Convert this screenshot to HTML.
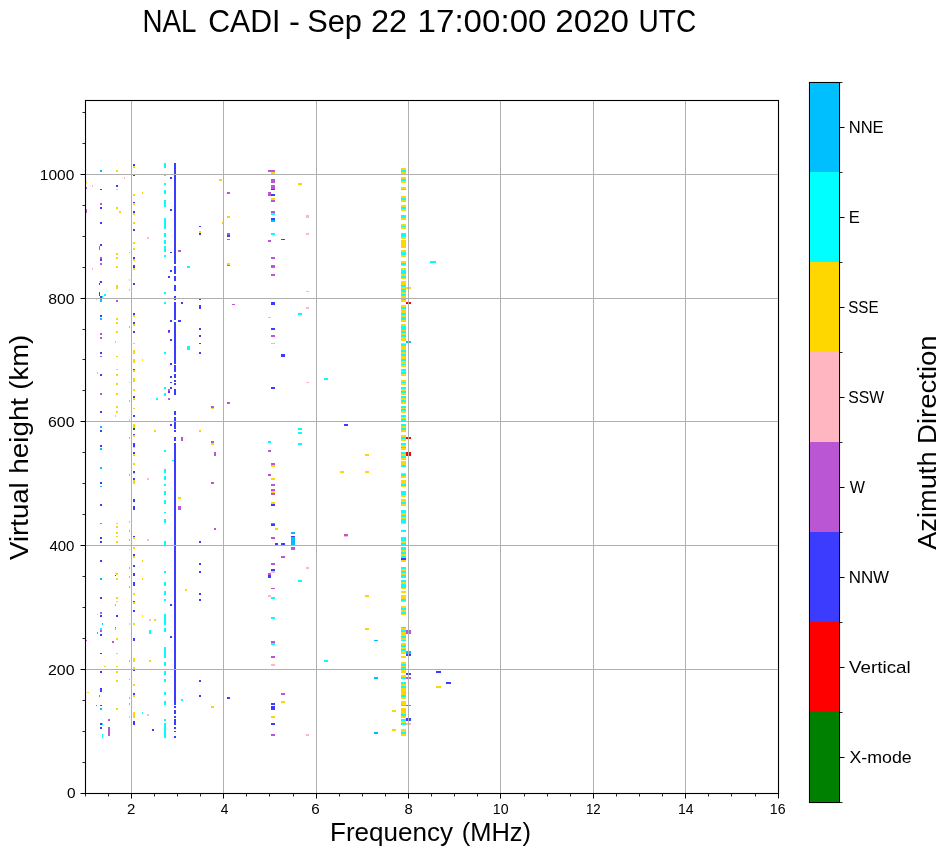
<!DOCTYPE html>
<html><head><meta charset="utf-8"><style>
html,body{margin:0;padding:0;background:#fff;width:951px;height:856px;overflow:hidden}
svg{display:block;will-change:transform}
text{font-family:"Liberation Sans",sans-serif;fill:#000}
</style></head><body>
<svg width="951" height="856" viewBox="0 0 951 856">
<g shape-rendering="crispEdges">
<rect x="84" y="100" width="1" height="694" fill="#f1f1f1"/>
<rect x="86" y="101" width="1" height="692" fill="#f1f1f1"/>
<rect x="777" y="101" width="1" height="692" fill="#f1f1f1"/>
<rect x="779" y="100" width="1" height="694" fill="#f1f1f1"/>
<rect x="85" y="99" width="694" height="1" fill="#f1f1f1"/>
<rect x="85" y="101" width="694" height="1" fill="#f1f1f1"/>
<rect x="85" y="792" width="694" height="1" fill="#f1f1f1"/>
<rect x="85" y="794" width="694" height="1" fill="#f1f1f1"/>
<rect x="133" y="164" width="2" height="2" fill="#3c3cff"/>
<rect x="133" y="166" width="2" height="2" fill="#ffd700"/>
<rect x="164" y="163" width="2" height="5" fill="#00ffff"/>
<rect x="174" y="163" width="2" height="94" fill="#3c3cff"/>
<rect x="100" y="170" width="2" height="2" fill="#00bfff"/>
<rect x="116" y="170" width="2" height="2" fill="#ffd700"/>
<rect x="133" y="174" width="2" height="2" fill="#3c3cff"/>
<rect x="164" y="174" width="2" height="2" fill="#00ffff"/>
<rect x="170" y="177" width="2" height="2" fill="#3c3cff"/>
<rect x="124" y="177" width="1" height="2" fill="#ffb6c1"/>
<rect x="86" y="181" width="1" height="2" fill="#ffd700"/>
<rect x="92" y="185" width="1" height="2" fill="#ffb6c1"/>
<rect x="86" y="187" width="1" height="2" fill="#ba55d3"/>
<rect x="116" y="185" width="2" height="2" fill="#3c3cff"/>
<rect x="100" y="189" width="2" height="1" fill="#3c3cff"/>
<rect x="116" y="189" width="2" height="1" fill="#ffd700"/>
<rect x="164" y="183" width="2" height="2" fill="#00ffff"/>
<rect x="164" y="190" width="2" height="4" fill="#00ffff"/>
<rect x="142" y="192" width="1" height="2" fill="#ffd700"/>
<rect x="133" y="194" width="2" height="2" fill="#ffd700"/>
<rect x="100" y="203" width="2" height="2" fill="#ba55d3"/>
<rect x="133" y="202" width="2" height="1" fill="#3c3cff"/>
<rect x="133" y="203" width="2" height="2" fill="#ffd700"/>
<rect x="164" y="200" width="2" height="7" fill="#00ffff"/>
<rect x="100" y="207" width="2" height="2" fill="#3c3cff"/>
<rect x="116" y="207" width="2" height="2" fill="#ffd700"/>
<rect x="86" y="209" width="1" height="4" fill="#ba55d3"/>
<rect x="119" y="211" width="2" height="2" fill="#ffd700"/>
<rect x="133" y="211" width="2" height="2" fill="#3c3cff"/>
<rect x="133" y="213" width="2" height="2" fill="#ffd700"/>
<rect x="170" y="209" width="2" height="2" fill="#3c3cff"/>
<rect x="100" y="222" width="2" height="2" fill="#3c3cff"/>
<rect x="133" y="222" width="2" height="2" fill="#ffd700"/>
<rect x="164" y="218" width="2" height="11" fill="#00ffff"/>
<rect x="133" y="229" width="2" height="2" fill="#3c3cff"/>
<rect x="199" y="226" width="2" height="1" fill="#3c3cff"/>
<rect x="199" y="231" width="2" height="2" fill="#ffd700"/>
<rect x="199" y="233" width="2" height="2" fill="#3c3cff"/>
<rect x="147" y="237" width="2" height="2" fill="#ffb6c1"/>
<rect x="164" y="233" width="2" height="4" fill="#00ffff"/>
<rect x="133" y="242" width="2" height="2" fill="#ffd700"/>
<rect x="100" y="244" width="2" height="2" fill="#3c3cff"/>
<rect x="99" y="246" width="1" height="4" fill="#ba55d3"/>
<rect x="164" y="240" width="2" height="4" fill="#00ffff"/>
<rect x="133" y="248" width="2" height="2" fill="#ffd700"/>
<rect x="164" y="246" width="2" height="6" fill="#00ffff"/>
<rect x="178" y="250" width="3" height="2" fill="#ba55d3"/>
<rect x="170" y="252" width="2" height="1" fill="#3c3cff"/>
<rect x="116" y="253" width="2" height="2" fill="#ffd700"/>
<rect x="129" y="252" width="1" height="1" fill="#00ffff"/>
<rect x="164" y="255" width="2" height="2" fill="#00ffff"/>
<rect x="100" y="257" width="2" height="2" fill="#ba55d3"/>
<rect x="100" y="259" width="2" height="2" fill="#3c3cff"/>
<rect x="116" y="257" width="2" height="2" fill="#ffd700"/>
<rect x="133" y="257" width="2" height="2" fill="#3c3cff"/>
<rect x="133" y="259" width="2" height="2" fill="#ffd700"/>
<rect x="174" y="257" width="2" height="7" fill="#3c3cff"/>
<rect x="174" y="266" width="2" height="8" fill="#3c3cff"/>
<rect x="174" y="276" width="2" height="5" fill="#3c3cff"/>
<rect x="174" y="285" width="2" height="6" fill="#3c3cff"/>
<rect x="174" y="296" width="2" height="4" fill="#3c3cff"/>
<rect x="174" y="302" width="2" height="18" fill="#3c3cff"/>
<rect x="174" y="322" width="2" height="42" fill="#3c3cff"/>
<rect x="100" y="263" width="2" height="2" fill="#ba55d3"/>
<rect x="92" y="268" width="1" height="2" fill="#ffb6c1"/>
<rect x="116" y="266" width="2" height="2" fill="#ffd700"/>
<rect x="133" y="265" width="2" height="3" fill="#3c3cff"/>
<rect x="133" y="268" width="2" height="2" fill="#ffd700"/>
<rect x="187" y="266" width="3" height="2" fill="#00ffff"/>
<rect x="170" y="270" width="2" height="2" fill="#3c3cff"/>
<rect x="168" y="276" width="2" height="2" fill="#3c3cff"/>
<rect x="129" y="279" width="1" height="2" fill="#ffd700"/>
<rect x="100" y="281" width="2" height="2" fill="#3c3cff"/>
<rect x="99" y="281" width="1" height="1" fill="#ffb6c1"/>
<rect x="99" y="283" width="1" height="2" fill="#3c3cff"/>
<rect x="133" y="283" width="2" height="2" fill="#3c3cff"/>
<rect x="116" y="285" width="2" height="4" fill="#ffd700"/>
<rect x="129" y="289" width="1" height="2" fill="#ffd700"/>
<rect x="99" y="292" width="1" height="4" fill="#3c3cff"/>
<rect x="100" y="296" width="2" height="2" fill="#3c3cff"/>
<rect x="102" y="296" width="1" height="2" fill="#00ffff"/>
<rect x="104" y="294" width="2" height="2" fill="#00ffff"/>
<rect x="164" y="292" width="2" height="2" fill="#00ffff"/>
<rect x="96" y="299" width="1" height="1" fill="#ffd700"/>
<rect x="100" y="299" width="2" height="3" fill="#00bfff"/>
<rect x="116" y="300" width="2" height="2" fill="#ba55d3"/>
<rect x="164" y="302" width="2" height="2" fill="#00ffff"/>
<rect x="181" y="302" width="2" height="2" fill="#3c3cff"/>
<rect x="199" y="299" width="2" height="1" fill="#3c3cff"/>
<rect x="199" y="305" width="2" height="4" fill="#3c3cff"/>
<rect x="100" y="315" width="2" height="2" fill="#3c3cff"/>
<rect x="100" y="318" width="2" height="2" fill="#00bfff"/>
<rect x="133" y="313" width="2" height="2" fill="#3c3cff"/>
<rect x="133" y="315" width="2" height="2" fill="#ffd700"/>
<rect x="116" y="318" width="2" height="2" fill="#ffd700"/>
<rect x="170" y="320" width="2" height="2" fill="#3c3cff"/>
<rect x="178" y="320" width="3" height="2" fill="#3c3cff"/>
<rect x="116" y="322" width="2" height="2" fill="#ffd700"/>
<rect x="133" y="322" width="2" height="2" fill="#3c3cff"/>
<rect x="133" y="324" width="2" height="2" fill="#ffd700"/>
<rect x="129" y="326" width="1" height="2" fill="#00ffff"/>
<rect x="199" y="328" width="2" height="2" fill="#3c3cff"/>
<rect x="116" y="331" width="2" height="2" fill="#ffd700"/>
<rect x="133" y="331" width="2" height="2" fill="#3c3cff"/>
<rect x="168" y="330" width="2" height="2" fill="#3c3cff"/>
<rect x="168" y="332" width="2" height="1" fill="#ba55d3"/>
<rect x="100" y="333" width="2" height="2" fill="#ba55d3"/>
<rect x="100" y="337" width="2" height="2" fill="#ba55d3"/>
<rect x="199" y="335" width="2" height="2" fill="#3c3cff"/>
<rect x="170" y="339" width="2" height="2" fill="#3c3cff"/>
<rect x="115" y="341" width="1" height="2" fill="#ffd700"/>
<rect x="133" y="343" width="2" height="1" fill="#ffd700"/>
<rect x="199" y="343" width="2" height="1" fill="#3c3cff"/>
<rect x="187" y="346" width="3" height="4" fill="#00ffff"/>
<rect x="100" y="352" width="2" height="2" fill="#3c3cff"/>
<rect x="100" y="356" width="2" height="1" fill="#ba55d3"/>
<rect x="116" y="356" width="2" height="1" fill="#ffd700"/>
<rect x="133" y="350" width="2" height="4" fill="#ffd700"/>
<rect x="164" y="352" width="2" height="2" fill="#00ffff"/>
<rect x="199" y="352" width="2" height="2" fill="#3c3cff"/>
<rect x="133" y="359" width="2" height="4" fill="#ffd700"/>
<rect x="142" y="359" width="1" height="2" fill="#ffd700"/>
<rect x="170" y="363" width="2" height="1" fill="#3c3cff"/>
<rect x="170" y="364" width="2" height="1" fill="#3c3cff"/>
<rect x="174" y="365" width="2" height="7" fill="#3c3cff"/>
<rect x="174" y="374" width="2" height="4" fill="#3c3cff"/>
<rect x="174" y="380" width="2" height="2" fill="#3c3cff"/>
<rect x="174" y="383" width="2" height="2" fill="#3c3cff"/>
<rect x="174" y="389" width="2" height="6" fill="#3c3cff"/>
<rect x="174" y="411" width="2" height="4" fill="#3c3cff"/>
<rect x="174" y="417" width="2" height="12" fill="#3c3cff"/>
<rect x="174" y="430" width="2" height="2" fill="#3c3cff"/>
<rect x="174" y="437" width="2" height="4" fill="#3c3cff"/>
<rect x="174" y="443" width="2" height="28" fill="#3c3cff"/>
<rect x="116" y="369" width="2" height="1" fill="#ffd700"/>
<rect x="133" y="369" width="2" height="1" fill="#3c3cff"/>
<rect x="133" y="370" width="2" height="2" fill="#ffd700"/>
<rect x="97" y="372" width="1" height="2" fill="#ffd700"/>
<rect x="100" y="374" width="2" height="2" fill="#3c3cff"/>
<rect x="116" y="374" width="2" height="2" fill="#ffd700"/>
<rect x="133" y="378" width="2" height="4" fill="#ffd700"/>
<rect x="129" y="382" width="1" height="1" fill="#ffd700"/>
<rect x="170" y="376" width="2" height="2" fill="#3c3cff"/>
<rect x="170" y="382" width="2" height="1" fill="#3c3cff"/>
<rect x="116" y="383" width="2" height="2" fill="#ffd700"/>
<rect x="164" y="387" width="2" height="2" fill="#00ffff"/>
<rect x="170" y="387" width="2" height="2" fill="#3c3cff"/>
<rect x="168" y="389" width="2" height="2" fill="#ba55d3"/>
<rect x="168" y="391" width="2" height="2" fill="#3c3cff"/>
<rect x="164" y="393" width="2" height="3" fill="#00ffff"/>
<rect x="133" y="389" width="2" height="2" fill="#ffd700"/>
<rect x="100" y="393" width="2" height="2" fill="#ba55d3"/>
<rect x="116" y="393" width="2" height="2" fill="#ffd700"/>
<rect x="133" y="396" width="2" height="2" fill="#3c3cff"/>
<rect x="133" y="398" width="2" height="2" fill="#ffd700"/>
<rect x="129" y="400" width="1" height="2" fill="#00ffff"/>
<rect x="156" y="398" width="2" height="2" fill="#00ffff"/>
<rect x="168" y="398" width="2" height="2" fill="#ba55d3"/>
<rect x="116" y="406" width="2" height="2" fill="#ffd700"/>
<rect x="133" y="408" width="2" height="1" fill="#ffd700"/>
<rect x="100" y="411" width="2" height="2" fill="#3c3cff"/>
<rect x="116" y="411" width="2" height="2" fill="#ffd700"/>
<rect x="115" y="415" width="1" height="2" fill="#ffd700"/>
<rect x="133" y="415" width="2" height="2" fill="#3c3cff"/>
<rect x="129" y="419" width="1" height="2" fill="#ffd700"/>
<rect x="100" y="426" width="2" height="2" fill="#00bfff"/>
<rect x="133" y="424" width="2" height="4" fill="#ffd700"/>
<rect x="133" y="428" width="2" height="2" fill="#008000"/>
<rect x="170" y="424" width="2" height="2" fill="#3c3cff"/>
<rect x="100" y="430" width="2" height="2" fill="#3c3cff"/>
<rect x="154" y="430" width="2" height="2" fill="#ffd700"/>
<rect x="199" y="430" width="2" height="2" fill="#ffd700"/>
<rect x="133" y="434" width="2" height="1" fill="#3c3cff"/>
<rect x="133" y="435" width="2" height="2" fill="#ffd700"/>
<rect x="129" y="437" width="1" height="2" fill="#00ffff"/>
<rect x="181" y="437" width="2" height="4" fill="#ba55d3"/>
<rect x="133" y="443" width="2" height="4" fill="#3c3cff"/>
<rect x="133" y="447" width="2" height="1" fill="#ffd700"/>
<rect x="100" y="445" width="2" height="2" fill="#3c3cff"/>
<rect x="100" y="448" width="2" height="2" fill="#00bfff"/>
<rect x="164" y="450" width="2" height="2" fill="#00ffff"/>
<rect x="133" y="452" width="2" height="2" fill="#3c3cff"/>
<rect x="133" y="454" width="2" height="2" fill="#ffd700"/>
<rect x="172" y="460" width="2" height="1" fill="#00ffff"/>
<rect x="133" y="463" width="2" height="2" fill="#ffd700"/>
<rect x="100" y="467" width="2" height="2" fill="#00bfff"/>
<rect x="164" y="469" width="2" height="2" fill="#00ffff"/>
<rect x="174" y="471" width="2" height="107" fill="#3c3cff"/>
<rect x="133" y="471" width="2" height="2" fill="#3c3cff"/>
<rect x="133" y="473" width="2" height="1" fill="#ffd700"/>
<rect x="129" y="474" width="1" height="2" fill="#00ffff"/>
<rect x="164" y="471" width="2" height="2" fill="#00ffff"/>
<rect x="147" y="478" width="2" height="2" fill="#ffb6c1"/>
<rect x="133" y="478" width="2" height="2" fill="#3c3cff"/>
<rect x="133" y="480" width="2" height="4" fill="#ffd700"/>
<rect x="164" y="476" width="2" height="4" fill="#00ffff"/>
<rect x="100" y="482" width="2" height="2" fill="#3c3cff"/>
<rect x="100" y="486" width="2" height="1" fill="#00bfff"/>
<rect x="164" y="484" width="2" height="2" fill="#00ffff"/>
<rect x="164" y="491" width="2" height="4" fill="#00ffff"/>
<rect x="178" y="497" width="3" height="2" fill="#ffd700"/>
<rect x="133" y="499" width="2" height="3" fill="#3c3cff"/>
<rect x="164" y="500" width="2" height="4" fill="#00ffff"/>
<rect x="100" y="504" width="2" height="2" fill="#3c3cff"/>
<rect x="133" y="506" width="2" height="4" fill="#3c3cff"/>
<rect x="178" y="506" width="3" height="4" fill="#ba55d3"/>
<rect x="164" y="512" width="2" height="1" fill="#00ffff"/>
<rect x="164" y="519" width="2" height="4" fill="#00ffff"/>
<rect x="129" y="521" width="1" height="2" fill="#ffd700"/>
<rect x="100" y="523" width="2" height="1" fill="#00bfff"/>
<rect x="116" y="523" width="2" height="1" fill="#ffd700"/>
<rect x="116" y="526" width="2" height="2" fill="#ffd700"/>
<rect x="129" y="530" width="1" height="2" fill="#00ffff"/>
<rect x="116" y="532" width="2" height="2" fill="#ffd700"/>
<rect x="116" y="536" width="2" height="1" fill="#ffd700"/>
<rect x="133" y="536" width="2" height="1" fill="#3c3cff"/>
<rect x="133" y="537" width="2" height="2" fill="#ffd700"/>
<rect x="100" y="537" width="2" height="2" fill="#3c3cff"/>
<rect x="147" y="539" width="2" height="2" fill="#ffb6c1"/>
<rect x="129" y="539" width="1" height="2" fill="#00ffff"/>
<rect x="100" y="541" width="2" height="2" fill="#3c3cff"/>
<rect x="116" y="541" width="2" height="2" fill="#ffd700"/>
<rect x="164" y="541" width="2" height="4" fill="#00ffff"/>
<rect x="199" y="541" width="2" height="2" fill="#3c3cff"/>
<rect x="133" y="547" width="2" height="2" fill="#ffd700"/>
<rect x="129" y="549" width="1" height="1" fill="#ffd700"/>
<rect x="133" y="554" width="2" height="2" fill="#3c3cff"/>
<rect x="133" y="556" width="2" height="2" fill="#ffd700"/>
<rect x="100" y="560" width="2" height="2" fill="#3c3cff"/>
<rect x="142" y="560" width="1" height="2" fill="#ffd700"/>
<rect x="199" y="563" width="2" height="2" fill="#3c3cff"/>
<rect x="133" y="565" width="2" height="2" fill="#3c3cff"/>
<rect x="129" y="567" width="1" height="2" fill="#00ffff"/>
<rect x="164" y="571" width="2" height="2" fill="#00ffff"/>
<rect x="199" y="571" width="2" height="2" fill="#3c3cff"/>
<rect x="116" y="573" width="2" height="2" fill="#ffd700"/>
<rect x="115" y="573" width="1" height="1" fill="#ffb6c1"/>
<rect x="115" y="575" width="1" height="1" fill="#3c3cff"/>
<rect x="133" y="573" width="2" height="3" fill="#3c3cff"/>
<rect x="129" y="576" width="1" height="2" fill="#00ffff"/>
<rect x="174" y="578" width="2" height="107" fill="#3c3cff"/>
<rect x="100" y="578" width="2" height="2" fill="#00bfff"/>
<rect x="116" y="578" width="2" height="2" fill="#ffd700"/>
<rect x="142" y="578" width="1" height="2" fill="#ffd700"/>
<rect x="133" y="582" width="2" height="4" fill="#3c3cff"/>
<rect x="164" y="582" width="2" height="4" fill="#00ffff"/>
<rect x="129" y="586" width="1" height="2" fill="#00ffff"/>
<rect x="185" y="589" width="2" height="2" fill="#ffd700"/>
<rect x="133" y="593" width="2" height="2" fill="#ffd700"/>
<rect x="164" y="591" width="2" height="4" fill="#00ffff"/>
<rect x="199" y="593" width="2" height="2" fill="#3c3cff"/>
<rect x="100" y="597" width="2" height="2" fill="#3c3cff"/>
<rect x="116" y="597" width="2" height="2" fill="#ffd700"/>
<rect x="116" y="601" width="2" height="1" fill="#ffd700"/>
<rect x="133" y="601" width="2" height="1" fill="#3c3cff"/>
<rect x="133" y="602" width="2" height="2" fill="#ffd700"/>
<rect x="164" y="599" width="2" height="2" fill="#00ffff"/>
<rect x="199" y="599" width="2" height="2" fill="#3c3cff"/>
<rect x="115" y="604" width="1" height="2" fill="#00ffff"/>
<rect x="170" y="604" width="2" height="2" fill="#3c3cff"/>
<rect x="133" y="610" width="2" height="2" fill="#3c3cff"/>
<rect x="100" y="612" width="2" height="2" fill="#ba55d3"/>
<rect x="97" y="614" width="1" height="1" fill="#ffb6c1"/>
<rect x="100" y="615" width="2" height="2" fill="#3c3cff"/>
<rect x="116" y="615" width="2" height="2" fill="#3c3cff"/>
<rect x="142" y="615" width="1" height="2" fill="#ffd700"/>
<rect x="149" y="619" width="2" height="2" fill="#ffb6c1"/>
<rect x="154" y="619" width="2" height="2" fill="#ffd700"/>
<rect x="164" y="614" width="2" height="11" fill="#00ffff"/>
<rect x="102" y="623" width="1" height="2" fill="#00bfff"/>
<rect x="129" y="623" width="1" height="2" fill="#ffd700"/>
<rect x="133" y="623" width="2" height="2" fill="#ffd700"/>
<rect x="100" y="628" width="2" height="2" fill="#00ffff"/>
<rect x="100" y="630" width="2" height="2" fill="#ba55d3"/>
<rect x="115" y="627" width="1" height="1" fill="#ba55d3"/>
<rect x="115" y="628" width="1" height="2" fill="#00ffff"/>
<rect x="97" y="632" width="1" height="2" fill="#00bfff"/>
<rect x="149" y="630" width="2" height="4" fill="#00ffff"/>
<rect x="164" y="628" width="2" height="4" fill="#00ffff"/>
<rect x="100" y="634" width="2" height="2" fill="#3c3cff"/>
<rect x="170" y="636" width="2" height="2" fill="#3c3cff"/>
<rect x="116" y="638" width="2" height="2" fill="#ffd700"/>
<rect x="133" y="638" width="2" height="3" fill="#3c3cff"/>
<rect x="86" y="640" width="1" height="1" fill="#ba55d3"/>
<rect x="112" y="641" width="2" height="2" fill="#ba55d3"/>
<rect x="164" y="647" width="2" height="11" fill="#00ffff"/>
<rect x="100" y="653" width="2" height="1" fill="#3c3cff"/>
<rect x="116" y="653" width="2" height="1" fill="#ffd700"/>
<rect x="129" y="660" width="1" height="2" fill="#00ffff"/>
<rect x="133" y="658" width="2" height="4" fill="#ffd700"/>
<rect x="149" y="660" width="2" height="2" fill="#ffd700"/>
<rect x="164" y="662" width="2" height="4" fill="#00ffff"/>
<rect x="104" y="666" width="2" height="1" fill="#ffd700"/>
<rect x="116" y="666" width="2" height="1" fill="#ffd700"/>
<rect x="133" y="667" width="2" height="2" fill="#ffd700"/>
<rect x="133" y="670" width="2" height="1" fill="#3c3cff"/>
<rect x="100" y="671" width="2" height="2" fill="#3c3cff"/>
<rect x="116" y="671" width="2" height="2" fill="#ffd700"/>
<rect x="164" y="671" width="2" height="4" fill="#00ffff"/>
<rect x="129" y="679" width="1" height="1" fill="#00ffff"/>
<rect x="116" y="680" width="2" height="2" fill="#ffd700"/>
<rect x="164" y="679" width="2" height="3" fill="#00ffff"/>
<rect x="199" y="680" width="2" height="2" fill="#3c3cff"/>
<rect x="133" y="684" width="2" height="1" fill="#ffd700"/>
<rect x="133" y="685" width="2" height="1" fill="#ffd700"/>
<rect x="174" y="685" width="2" height="20" fill="#3c3cff"/>
<rect x="174" y="706" width="2" height="2" fill="#3c3cff"/>
<rect x="174" y="710" width="2" height="4" fill="#3c3cff"/>
<rect x="174" y="716" width="2" height="2" fill="#3c3cff"/>
<rect x="174" y="719" width="2" height="6" fill="#3c3cff"/>
<rect x="174" y="727" width="2" height="2" fill="#3c3cff"/>
<rect x="174" y="731" width="2" height="1" fill="#3c3cff"/>
<rect x="174" y="736" width="2" height="2" fill="#3c3cff"/>
<rect x="100" y="688" width="2" height="4" fill="#3c3cff"/>
<rect x="87" y="692" width="2" height="1" fill="#ffd700"/>
<rect x="99" y="695" width="1" height="2" fill="#ba55d3"/>
<rect x="133" y="693" width="2" height="2" fill="#3c3cff"/>
<rect x="133" y="695" width="2" height="2" fill="#ffd700"/>
<rect x="129" y="697" width="1" height="2" fill="#00ffff"/>
<rect x="164" y="692" width="2" height="3" fill="#00ffff"/>
<rect x="199" y="695" width="2" height="2" fill="#3c3cff"/>
<rect x="181" y="699" width="2" height="2" fill="#00ffff"/>
<rect x="129" y="703" width="1" height="2" fill="#00ffff"/>
<rect x="164" y="701" width="2" height="4" fill="#00ffff"/>
<rect x="96" y="705" width="1" height="1" fill="#ba55d3"/>
<rect x="100" y="705" width="2" height="1" fill="#3c3cff"/>
<rect x="100" y="708" width="2" height="2" fill="#00bfff"/>
<rect x="116" y="708" width="2" height="2" fill="#ffd700"/>
<rect x="142" y="712" width="1" height="2" fill="#00ffff"/>
<rect x="147" y="714" width="2" height="2" fill="#ffb6c1"/>
<rect x="133" y="712" width="2" height="6" fill="#ffd700"/>
<rect x="129" y="716" width="1" height="2" fill="#ffd700"/>
<rect x="108" y="719" width="2" height="2" fill="#ba55d3"/>
<rect x="164" y="719" width="2" height="2" fill="#00ffff"/>
<rect x="100" y="723" width="2" height="2" fill="#3c3cff"/>
<rect x="102" y="723" width="1" height="2" fill="#00ffff"/>
<rect x="133" y="721" width="2" height="4" fill="#3c3cff"/>
<rect x="100" y="727" width="2" height="2" fill="#3c3cff"/>
<rect x="108" y="727" width="2" height="9" fill="#ba55d3"/>
<rect x="152" y="729" width="2" height="2" fill="#3c3cff"/>
<rect x="164" y="723" width="2" height="15" fill="#00ffff"/>
<rect x="102" y="734" width="1" height="4" fill="#00ffff"/>
<rect x="268" y="170" width="7" height="2" fill="#ba55d3"/>
<rect x="271" y="172" width="4" height="2" fill="#ffd700"/>
<rect x="219" y="179" width="3" height="2" fill="#ffd700"/>
<rect x="271" y="179" width="4" height="4" fill="#ba55d3"/>
<rect x="298" y="183" width="4" height="2" fill="#ffd700"/>
<rect x="271" y="185" width="4" height="4" fill="#ba55d3"/>
<rect x="271" y="189" width="4" height="1" fill="#3c3cff"/>
<rect x="227" y="192" width="3" height="2" fill="#ba55d3"/>
<rect x="268" y="192" width="3" height="4" fill="#ba55d3"/>
<rect x="271" y="194" width="4" height="2" fill="#3c3cff"/>
<rect x="271" y="198" width="4" height="2" fill="#ffd700"/>
<rect x="271" y="200" width="4" height="2" fill="#ba55d3"/>
<rect x="271" y="211" width="4" height="2" fill="#ba55d3"/>
<rect x="271" y="213" width="4" height="2" fill="#00ffff"/>
<rect x="227" y="216" width="3" height="2" fill="#ffd700"/>
<rect x="306" y="215" width="3" height="3" fill="#ffb6c1"/>
<rect x="271" y="218" width="4" height="2" fill="#3c3cff"/>
<rect x="271" y="220" width="4" height="2" fill="#00bfff"/>
<rect x="222" y="222" width="1" height="2" fill="#ffd700"/>
<rect x="227" y="233" width="3" height="2" fill="#ba55d3"/>
<rect x="227" y="235" width="3" height="2" fill="#3c3cff"/>
<rect x="271" y="233" width="4" height="2" fill="#00ffff"/>
<rect x="306" y="233" width="3" height="2" fill="#ffb6c1"/>
<rect x="227" y="239" width="3" height="1" fill="#ba55d3"/>
<rect x="281" y="239" width="4" height="1" fill="#3c3cff"/>
<rect x="268" y="240" width="3" height="2" fill="#ba55d3"/>
<rect x="271" y="257" width="4" height="2" fill="#ba55d3"/>
<rect x="227" y="263" width="3" height="2" fill="#ffd700"/>
<rect x="227" y="265" width="3" height="1" fill="#ba55d3"/>
<rect x="271" y="265" width="4" height="3" fill="#ba55d3"/>
<rect x="271" y="274" width="4" height="2" fill="#ba55d3"/>
<rect x="306" y="291" width="3" height="1" fill="#ffb6c1"/>
<rect x="232" y="304" width="3" height="1" fill="#ba55d3"/>
<rect x="271" y="302" width="4" height="3" fill="#3c3cff"/>
<rect x="306" y="307" width="3" height="2" fill="#ffb6c1"/>
<rect x="298" y="313" width="4" height="2" fill="#00ffff"/>
<rect x="268" y="317" width="3" height="1" fill="#ffd700"/>
<rect x="271" y="328" width="4" height="2" fill="#3c3cff"/>
<rect x="271" y="335" width="4" height="2" fill="#ba55d3"/>
<rect x="271" y="343" width="4" height="1" fill="#ffd700"/>
<rect x="281" y="354" width="4" height="3" fill="#3c3cff"/>
<rect x="306" y="382" width="3" height="1" fill="#ffb6c1"/>
<rect x="271" y="387" width="4" height="2" fill="#3c3cff"/>
<rect x="227" y="402" width="3" height="2" fill="#ba55d3"/>
<rect x="211" y="406" width="3" height="2" fill="#ba55d3"/>
<rect x="211" y="408" width="3" height="1" fill="#ffd700"/>
<rect x="298" y="428" width="4" height="2" fill="#00ffff"/>
<rect x="298" y="432" width="4" height="2" fill="#00ffff"/>
<rect x="211" y="441" width="3" height="2" fill="#ba55d3"/>
<rect x="211" y="443" width="3" height="2" fill="#ffd700"/>
<rect x="268" y="441" width="3" height="2" fill="#00ffff"/>
<rect x="298" y="443" width="4" height="2" fill="#00ffff"/>
<rect x="268" y="450" width="3" height="2" fill="#ba55d3"/>
<rect x="214" y="452" width="2" height="4" fill="#ba55d3"/>
<rect x="271" y="463" width="4" height="2" fill="#ba55d3"/>
<rect x="271" y="465" width="4" height="2" fill="#ffd700"/>
<rect x="268" y="474" width="3" height="2" fill="#ba55d3"/>
<rect x="271" y="478" width="4" height="2" fill="#ffd700"/>
<rect x="211" y="482" width="3" height="2" fill="#ba55d3"/>
<rect x="271" y="484" width="4" height="2" fill="#ba55d3"/>
<rect x="271" y="489" width="4" height="2" fill="#ba55d3"/>
<rect x="271" y="491" width="4" height="2" fill="#ffd700"/>
<rect x="271" y="493" width="4" height="2" fill="#ba55d3"/>
<rect x="271" y="502" width="4" height="2" fill="#ffd700"/>
<rect x="271" y="504" width="4" height="2" fill="#3c3cff"/>
<rect x="271" y="523" width="4" height="1" fill="#ba55d3"/>
<rect x="271" y="524" width="4" height="2" fill="#3c3cff"/>
<rect x="214" y="528" width="2" height="2" fill="#ba55d3"/>
<rect x="275" y="528" width="3" height="2" fill="#ffd700"/>
<rect x="291" y="532" width="4" height="2" fill="#00bfff"/>
<rect x="291" y="536" width="4" height="1" fill="#3c3cff"/>
<rect x="291" y="537" width="4" height="8" fill="#00bfff"/>
<rect x="271" y="537" width="4" height="2" fill="#ba55d3"/>
<rect x="275" y="543" width="3" height="2" fill="#3c3cff"/>
<rect x="281" y="543" width="4" height="2" fill="#3c3cff"/>
<rect x="291" y="547" width="4" height="2" fill="#ba55d3"/>
<rect x="291" y="549" width="4" height="1" fill="#00bfff"/>
<rect x="281" y="556" width="4" height="2" fill="#ba55d3"/>
<rect x="271" y="563" width="4" height="2" fill="#ba55d3"/>
<rect x="306" y="567" width="3" height="2" fill="#ffb6c1"/>
<rect x="271" y="569" width="4" height="2" fill="#3c3cff"/>
<rect x="271" y="571" width="4" height="2" fill="#ffb6c1"/>
<rect x="268" y="573" width="3" height="2" fill="#ba55d3"/>
<rect x="268" y="575" width="3" height="3" fill="#3c3cff"/>
<rect x="298" y="580" width="4" height="2" fill="#00ffff"/>
<rect x="271" y="588" width="4" height="1" fill="#ba55d3"/>
<rect x="268" y="595" width="3" height="2" fill="#ffb6c1"/>
<rect x="271" y="597" width="4" height="2" fill="#00ffff"/>
<rect x="271" y="617" width="4" height="2" fill="#00ffff"/>
<rect x="271" y="641" width="4" height="2" fill="#ba55d3"/>
<rect x="271" y="643" width="4" height="2" fill="#00ffff"/>
<rect x="271" y="656" width="4" height="2" fill="#ba55d3"/>
<rect x="271" y="664" width="4" height="2" fill="#ffb6c1"/>
<rect x="281" y="693" width="4" height="2" fill="#ba55d3"/>
<rect x="227" y="697" width="3" height="2" fill="#3c3cff"/>
<rect x="281" y="701" width="4" height="2" fill="#ffd700"/>
<rect x="211" y="706" width="3" height="2" fill="#ffd700"/>
<rect x="271" y="703" width="4" height="2" fill="#3c3cff"/>
<rect x="271" y="706" width="4" height="4" fill="#3c3cff"/>
<rect x="271" y="716" width="4" height="2" fill="#ffd700"/>
<rect x="271" y="723" width="4" height="2" fill="#3c3cff"/>
<rect x="271" y="734" width="4" height="2" fill="#ba55d3"/>
<rect x="306" y="734" width="3" height="2" fill="#ffb6c1"/>
<rect x="401" y="168" width="5" height="2" fill="#ffd700"/>
<rect x="401" y="170" width="5" height="2" fill="#00ffff"/>
<rect x="401" y="172" width="5" height="2" fill="#ffd700"/>
<rect x="401" y="177" width="5" height="2" fill="#ffd700"/>
<rect x="401" y="179" width="5" height="2" fill="#00ffff"/>
<rect x="401" y="181" width="5" height="2" fill="#ffd700"/>
<rect x="401" y="187" width="5" height="2" fill="#ffd700"/>
<rect x="401" y="189" width="5" height="1" fill="#00ffff"/>
<rect x="401" y="196" width="5" height="2" fill="#ffd700"/>
<rect x="401" y="198" width="5" height="2" fill="#00ffff"/>
<rect x="401" y="200" width="5" height="2" fill="#ffd700"/>
<rect x="401" y="205" width="5" height="2" fill="#ffd700"/>
<rect x="401" y="207" width="5" height="2" fill="#00ffff"/>
<rect x="401" y="209" width="5" height="2" fill="#ffd700"/>
<rect x="401" y="215" width="5" height="3" fill="#00ffff"/>
<rect x="401" y="218" width="5" height="2" fill="#ffd700"/>
<rect x="401" y="224" width="5" height="2" fill="#ffd700"/>
<rect x="401" y="226" width="5" height="1" fill="#00ffff"/>
<rect x="401" y="227" width="5" height="2" fill="#ffd700"/>
<rect x="401" y="233" width="5" height="4" fill="#00ffff"/>
<rect x="401" y="237" width="5" height="2" fill="#ffd700"/>
<rect x="401" y="240" width="5" height="8" fill="#ffd700"/>
<rect x="401" y="250" width="5" height="2" fill="#ffd700"/>
<rect x="401" y="252" width="5" height="3" fill="#00ffff"/>
<rect x="401" y="255" width="5" height="2" fill="#ffd700"/>
<rect x="401" y="261" width="5" height="2" fill="#ffd700"/>
<rect x="401" y="263" width="5" height="2" fill="#00ffff"/>
<rect x="401" y="265" width="5" height="1" fill="#ffd700"/>
<rect x="401" y="268" width="5" height="2" fill="#ffd700"/>
<rect x="401" y="270" width="5" height="4" fill="#00ffff"/>
<rect x="401" y="274" width="5" height="2" fill="#ffd700"/>
<rect x="401" y="276" width="5" height="2" fill="#00ffff"/>
<rect x="401" y="278" width="5" height="1" fill="#ffd700"/>
<rect x="401" y="281" width="5" height="4" fill="#ffd700"/>
<rect x="401" y="285" width="5" height="2" fill="#00ffff"/>
<rect x="401" y="287" width="5" height="2" fill="#ffd700"/>
<rect x="401" y="289" width="5" height="3" fill="#00ffff"/>
<rect x="401" y="292" width="5" height="2" fill="#ffd700"/>
<rect x="401" y="294" width="5" height="2" fill="#00ffff"/>
<rect x="401" y="296" width="5" height="2" fill="#ffd700"/>
<rect x="401" y="298" width="5" height="2" fill="#00ffff"/>
<rect x="401" y="300" width="5" height="2" fill="#ffd700"/>
<rect x="401" y="305" width="5" height="2" fill="#ffd700"/>
<rect x="401" y="307" width="5" height="2" fill="#00ffff"/>
<rect x="401" y="309" width="5" height="4" fill="#ffd700"/>
<rect x="401" y="313" width="5" height="2" fill="#00ffff"/>
<rect x="401" y="315" width="5" height="2" fill="#ffd700"/>
<rect x="401" y="317" width="5" height="3" fill="#00ffff"/>
<rect x="401" y="320" width="5" height="2" fill="#ffd700"/>
<rect x="401" y="324" width="5" height="2" fill="#ffd700"/>
<rect x="401" y="326" width="5" height="4" fill="#00ffff"/>
<rect x="401" y="330" width="5" height="1" fill="#ffd700"/>
<rect x="401" y="331" width="5" height="2" fill="#00ffff"/>
<rect x="401" y="333" width="5" height="2" fill="#ffd700"/>
<rect x="401" y="335" width="5" height="2" fill="#00ffff"/>
<rect x="401" y="337" width="5" height="4" fill="#ffd700"/>
<rect x="401" y="343" width="5" height="1" fill="#ffd700"/>
<rect x="401" y="344" width="5" height="2" fill="#00ffff"/>
<rect x="401" y="346" width="5" height="4" fill="#ffd700"/>
<rect x="401" y="350" width="5" height="2" fill="#00ffff"/>
<rect x="401" y="352" width="5" height="2" fill="#ffd700"/>
<rect x="401" y="354" width="5" height="2" fill="#00ffff"/>
<rect x="401" y="356" width="5" height="3" fill="#ffd700"/>
<rect x="401" y="359" width="5" height="2" fill="#00ffff"/>
<rect x="401" y="361" width="5" height="3" fill="#ffd700"/>
<rect x="406" y="287" width="5" height="2" fill="#ffd700"/>
<rect x="406" y="302" width="5" height="2" fill="#ff0000"/>
<rect x="406" y="341" width="5" height="2" fill="#00bfff"/>
<rect x="430" y="261" width="6" height="2" fill="#00ffff"/>
<rect x="401" y="364" width="5" height="1" fill="#00ffff"/>
<rect x="401" y="365" width="5" height="2" fill="#ffd700"/>
<rect x="401" y="369" width="5" height="2" fill="#00ffff"/>
<rect x="401" y="371" width="5" height="1" fill="#ffd700"/>
<rect x="401" y="372" width="5" height="2" fill="#00ffff"/>
<rect x="401" y="374" width="5" height="2" fill="#ffd700"/>
<rect x="401" y="380" width="5" height="2" fill="#ffd700"/>
<rect x="401" y="382" width="5" height="1" fill="#00ffff"/>
<rect x="401" y="383" width="5" height="2" fill="#ffd700"/>
<rect x="401" y="387" width="5" height="2" fill="#00ffff"/>
<rect x="401" y="389" width="5" height="2" fill="#ffd700"/>
<rect x="401" y="391" width="5" height="2" fill="#00ffff"/>
<rect x="401" y="393" width="5" height="2" fill="#ffd700"/>
<rect x="401" y="396" width="5" height="2" fill="#00ffff"/>
<rect x="401" y="398" width="5" height="2" fill="#ffd700"/>
<rect x="401" y="400" width="5" height="2" fill="#00ffff"/>
<rect x="401" y="402" width="5" height="2" fill="#ffd700"/>
<rect x="401" y="406" width="5" height="2" fill="#00ffff"/>
<rect x="401" y="408" width="5" height="1" fill="#ffd700"/>
<rect x="401" y="409" width="5" height="2" fill="#00ffff"/>
<rect x="401" y="411" width="5" height="2" fill="#ffd700"/>
<rect x="401" y="415" width="5" height="2" fill="#00ffff"/>
<rect x="401" y="417" width="5" height="2" fill="#ffd700"/>
<rect x="401" y="419" width="5" height="2" fill="#00ffff"/>
<rect x="401" y="424" width="5" height="2" fill="#00ffff"/>
<rect x="401" y="426" width="5" height="2" fill="#ffd700"/>
<rect x="401" y="428" width="5" height="2" fill="#00ffff"/>
<rect x="401" y="430" width="5" height="2" fill="#ffd700"/>
<rect x="401" y="435" width="5" height="2" fill="#ffd700"/>
<rect x="401" y="437" width="5" height="2" fill="#00ffff"/>
<rect x="401" y="439" width="5" height="2" fill="#ffd700"/>
<rect x="401" y="443" width="5" height="2" fill="#00ffff"/>
<rect x="401" y="445" width="5" height="2" fill="#ffd700"/>
<rect x="401" y="447" width="5" height="1" fill="#00ffff"/>
<rect x="401" y="448" width="5" height="2" fill="#ffd700"/>
<rect x="401" y="452" width="5" height="2" fill="#00ffff"/>
<rect x="401" y="454" width="5" height="2" fill="#ffd700"/>
<rect x="401" y="456" width="5" height="2" fill="#00ffff"/>
<rect x="401" y="458" width="5" height="2" fill="#ffd700"/>
<rect x="401" y="461" width="5" height="4" fill="#ffd700"/>
<rect x="401" y="465" width="5" height="2" fill="#00ffff"/>
<rect x="324" y="378" width="4" height="2" fill="#00ffff"/>
<rect x="344" y="424" width="4" height="2" fill="#3c3cff"/>
<rect x="406" y="437" width="5" height="2" fill="#ff0000"/>
<rect x="406" y="452" width="5" height="4" fill="#ff0000"/>
<rect x="365" y="454" width="4" height="2" fill="#ffd700"/>
<rect x="340" y="471" width="4" height="2" fill="#ffd700"/>
<rect x="365" y="471" width="4" height="2" fill="#ffd700"/>
<rect x="401" y="473" width="5" height="1" fill="#ffd700"/>
<rect x="401" y="474" width="5" height="2" fill="#00ffff"/>
<rect x="401" y="476" width="5" height="2" fill="#ffd700"/>
<rect x="401" y="480" width="5" height="4" fill="#ffd700"/>
<rect x="401" y="484" width="5" height="2" fill="#00ffff"/>
<rect x="401" y="486" width="5" height="1" fill="#ffd700"/>
<rect x="401" y="491" width="5" height="4" fill="#00ffff"/>
<rect x="401" y="495" width="5" height="2" fill="#ffd700"/>
<rect x="401" y="499" width="5" height="3" fill="#ffd700"/>
<rect x="401" y="502" width="5" height="2" fill="#00ffff"/>
<rect x="401" y="504" width="5" height="2" fill="#ffd700"/>
<rect x="401" y="510" width="5" height="3" fill="#00ffff"/>
<rect x="401" y="513" width="5" height="2" fill="#ffd700"/>
<rect x="401" y="515" width="5" height="2" fill="#00ffff"/>
<rect x="401" y="517" width="5" height="2" fill="#ffd700"/>
<rect x="401" y="519" width="5" height="4" fill="#00ffff"/>
<rect x="401" y="523" width="5" height="1" fill="#ffd700"/>
<rect x="401" y="530" width="5" height="2" fill="#00ffff"/>
<rect x="401" y="537" width="5" height="4" fill="#00ffff"/>
<rect x="401" y="541" width="5" height="2" fill="#ffd700"/>
<rect x="401" y="543" width="5" height="2" fill="#00ffff"/>
<rect x="401" y="547" width="5" height="3" fill="#00ffff"/>
<rect x="401" y="550" width="5" height="2" fill="#ffd700"/>
<rect x="401" y="552" width="5" height="2" fill="#00ffff"/>
<rect x="401" y="554" width="5" height="2" fill="#ffd700"/>
<rect x="401" y="556" width="5" height="2" fill="#00ffff"/>
<rect x="401" y="558" width="5" height="2" fill="#3c3cff"/>
<rect x="401" y="560" width="5" height="2" fill="#ffd700"/>
<rect x="401" y="567" width="5" height="2" fill="#00ffff"/>
<rect x="401" y="569" width="5" height="2" fill="#ffd700"/>
<rect x="401" y="571" width="5" height="2" fill="#00ffff"/>
<rect x="401" y="573" width="5" height="2" fill="#ffd700"/>
<rect x="401" y="575" width="5" height="3" fill="#00ffff"/>
<rect x="344" y="534" width="4" height="2" fill="#ba55d3"/>
<rect x="344" y="536" width="4" height="1" fill="#ffb6c1"/>
<rect x="401" y="580" width="5" height="2" fill="#00ffff"/>
<rect x="401" y="582" width="5" height="2" fill="#ffd700"/>
<rect x="401" y="584" width="5" height="4" fill="#00ffff"/>
<rect x="401" y="588" width="5" height="1" fill="#ffd700"/>
<rect x="401" y="591" width="5" height="2" fill="#ffd700"/>
<rect x="401" y="595" width="5" height="4" fill="#ffd700"/>
<rect x="401" y="599" width="5" height="2" fill="#00ffff"/>
<rect x="401" y="601" width="5" height="1" fill="#ffd700"/>
<rect x="401" y="606" width="5" height="2" fill="#ffd700"/>
<rect x="401" y="608" width="5" height="2" fill="#00ffff"/>
<rect x="401" y="610" width="5" height="2" fill="#ffd700"/>
<rect x="401" y="612" width="5" height="2" fill="#00ffff"/>
<rect x="401" y="614" width="5" height="1" fill="#ffd700"/>
<rect x="401" y="627" width="5" height="1" fill="#00ffff"/>
<rect x="401" y="628" width="5" height="2" fill="#ffd700"/>
<rect x="401" y="630" width="5" height="2" fill="#00ffff"/>
<rect x="401" y="632" width="5" height="4" fill="#ffd700"/>
<rect x="401" y="636" width="5" height="2" fill="#00ffff"/>
<rect x="401" y="638" width="5" height="2" fill="#ffd700"/>
<rect x="401" y="640" width="5" height="1" fill="#00ffff"/>
<rect x="401" y="643" width="5" height="2" fill="#ffd700"/>
<rect x="401" y="645" width="5" height="2" fill="#00ffff"/>
<rect x="401" y="647" width="5" height="2" fill="#ffd700"/>
<rect x="401" y="649" width="5" height="2" fill="#00ffff"/>
<rect x="401" y="651" width="5" height="3" fill="#ffd700"/>
<rect x="401" y="656" width="5" height="2" fill="#ffd700"/>
<rect x="401" y="662" width="5" height="2" fill="#ffd700"/>
<rect x="401" y="664" width="5" height="2" fill="#00ffff"/>
<rect x="401" y="666" width="5" height="1" fill="#ffd700"/>
<rect x="401" y="667" width="5" height="2" fill="#00ffff"/>
<rect x="401" y="670" width="5" height="3" fill="#ffd700"/>
<rect x="401" y="675" width="5" height="2" fill="#ffd700"/>
<rect x="401" y="677" width="5" height="2" fill="#00ffff"/>
<rect x="401" y="682" width="5" height="2" fill="#00ffff"/>
<rect x="401" y="684" width="5" height="1" fill="#ffd700"/>
<rect x="365" y="595" width="4" height="2" fill="#ffd700"/>
<rect x="365" y="628" width="4" height="2" fill="#ffd700"/>
<rect x="406" y="630" width="5" height="4" fill="#ba55d3"/>
<rect x="374" y="640" width="4" height="1" fill="#00bfff"/>
<rect x="406" y="651" width="5" height="3" fill="#00bfff"/>
<rect x="406" y="654" width="5" height="2" fill="#3c3cff"/>
<rect x="324" y="660" width="4" height="2" fill="#00ffff"/>
<rect x="436" y="671" width="5" height="2" fill="#3c3cff"/>
<rect x="406" y="673" width="5" height="2" fill="#3c3cff"/>
<rect x="374" y="677" width="4" height="2" fill="#00bfff"/>
<rect x="406" y="677" width="5" height="2" fill="#ba55d3"/>
<rect x="401" y="685" width="5" height="1" fill="#ffd700"/>
<rect x="401" y="686" width="5" height="2" fill="#00ffff"/>
<rect x="401" y="688" width="5" height="7" fill="#ffd700"/>
<rect x="401" y="695" width="5" height="2" fill="#00ffff"/>
<rect x="401" y="697" width="5" height="2" fill="#ffd700"/>
<rect x="401" y="701" width="5" height="4" fill="#ffd700"/>
<rect x="401" y="705" width="5" height="1" fill="#00ffff"/>
<rect x="401" y="708" width="5" height="6" fill="#ffd700"/>
<rect x="401" y="714" width="5" height="2" fill="#00ffff"/>
<rect x="401" y="716" width="5" height="2" fill="#ffd700"/>
<rect x="401" y="719" width="5" height="2" fill="#00ffff"/>
<rect x="401" y="721" width="5" height="2" fill="#ffd700"/>
<rect x="401" y="723" width="5" height="2" fill="#00ffff"/>
<rect x="401" y="729" width="5" height="3" fill="#ffd700"/>
<rect x="401" y="732" width="5" height="2" fill="#00ffff"/>
<rect x="401" y="734" width="5" height="2" fill="#ffd700"/>
<rect x="436" y="686" width="5" height="2" fill="#ffd700"/>
<rect x="446" y="682" width="5" height="2" fill="#3c3cff"/>
<rect x="406" y="705" width="5" height="1" fill="#ba55d3"/>
<rect x="392" y="710" width="4" height="2" fill="#ffd700"/>
<rect x="406" y="718" width="5" height="3" fill="#3c3cff"/>
<rect x="406" y="723" width="5" height="2" fill="#ffb6c1"/>
<rect x="392" y="729" width="4" height="2" fill="#ffd700"/>
<rect x="374" y="732" width="4" height="2" fill="#00bfff"/>
<rect x="131" y="101" width="1" height="692" fill="#b0b0b0"/>
<rect x="223" y="101" width="1" height="692" fill="#b0b0b0"/>
<rect x="316" y="101" width="1" height="692" fill="#b0b0b0"/>
<rect x="408" y="101" width="1" height="692" fill="#b0b0b0"/>
<rect x="500" y="101" width="1" height="692" fill="#b0b0b0"/>
<rect x="593" y="101" width="1" height="692" fill="#b0b0b0"/>
<rect x="685" y="101" width="1" height="692" fill="#b0b0b0"/>
<rect x="86" y="174" width="692" height="1" fill="#b0b0b0"/>
<rect x="86" y="298" width="692" height="1" fill="#b0b0b0"/>
<rect x="86" y="421" width="692" height="1" fill="#b0b0b0"/>
<rect x="86" y="545" width="692" height="1" fill="#b0b0b0"/>
<rect x="86" y="669" width="692" height="1" fill="#b0b0b0"/>
<rect x="85" y="100" width="1" height="694" fill="#000"/>
<rect x="778" y="100" width="1" height="694" fill="#000"/>
<rect x="85" y="100" width="694" height="1" fill="#000"/>
<rect x="85" y="793" width="694" height="1" fill="#000"/>
<rect x="131" y="794" width="1" height="4" fill="#000"/>
<rect x="131" y="798" width="1" height="1" fill="#7f7f7f"/>
<rect x="223" y="794" width="1" height="4" fill="#000"/>
<rect x="223" y="798" width="1" height="1" fill="#7f7f7f"/>
<rect x="316" y="794" width="1" height="4" fill="#000"/>
<rect x="316" y="798" width="1" height="1" fill="#7f7f7f"/>
<rect x="408" y="794" width="1" height="4" fill="#000"/>
<rect x="408" y="798" width="1" height="1" fill="#7f7f7f"/>
<rect x="500" y="794" width="1" height="4" fill="#000"/>
<rect x="500" y="798" width="1" height="1" fill="#7f7f7f"/>
<rect x="593" y="794" width="1" height="4" fill="#000"/>
<rect x="593" y="798" width="1" height="1" fill="#7f7f7f"/>
<rect x="685" y="794" width="1" height="4" fill="#000"/>
<rect x="685" y="798" width="1" height="1" fill="#7f7f7f"/>
<rect x="778" y="794" width="1" height="4" fill="#000"/>
<rect x="778" y="798" width="1" height="1" fill="#7f7f7f"/>
<rect x="85" y="794" width="1" height="2" fill="#262626"/>
<rect x="85" y="796" width="1" height="1" fill="#949494"/>
<rect x="108" y="794" width="1" height="2" fill="#262626"/>
<rect x="108" y="796" width="1" height="1" fill="#949494"/>
<rect x="154" y="794" width="1" height="2" fill="#262626"/>
<rect x="154" y="796" width="1" height="1" fill="#949494"/>
<rect x="177" y="794" width="1" height="2" fill="#262626"/>
<rect x="177" y="796" width="1" height="1" fill="#949494"/>
<rect x="200" y="794" width="1" height="2" fill="#262626"/>
<rect x="200" y="796" width="1" height="1" fill="#949494"/>
<rect x="246" y="794" width="1" height="2" fill="#262626"/>
<rect x="246" y="796" width="1" height="1" fill="#949494"/>
<rect x="269" y="794" width="1" height="2" fill="#262626"/>
<rect x="269" y="796" width="1" height="1" fill="#949494"/>
<rect x="293" y="794" width="1" height="2" fill="#262626"/>
<rect x="293" y="796" width="1" height="1" fill="#949494"/>
<rect x="339" y="794" width="1" height="2" fill="#262626"/>
<rect x="339" y="796" width="1" height="1" fill="#949494"/>
<rect x="362" y="794" width="1" height="2" fill="#262626"/>
<rect x="362" y="796" width="1" height="1" fill="#949494"/>
<rect x="385" y="794" width="1" height="2" fill="#262626"/>
<rect x="385" y="796" width="1" height="1" fill="#949494"/>
<rect x="431" y="794" width="1" height="2" fill="#262626"/>
<rect x="431" y="796" width="1" height="1" fill="#949494"/>
<rect x="454" y="794" width="1" height="2" fill="#262626"/>
<rect x="454" y="796" width="1" height="1" fill="#949494"/>
<rect x="477" y="794" width="1" height="2" fill="#262626"/>
<rect x="477" y="796" width="1" height="1" fill="#949494"/>
<rect x="524" y="794" width="1" height="2" fill="#262626"/>
<rect x="524" y="796" width="1" height="1" fill="#949494"/>
<rect x="547" y="794" width="1" height="2" fill="#262626"/>
<rect x="547" y="796" width="1" height="1" fill="#949494"/>
<rect x="570" y="794" width="1" height="2" fill="#262626"/>
<rect x="570" y="796" width="1" height="1" fill="#949494"/>
<rect x="616" y="794" width="1" height="2" fill="#262626"/>
<rect x="616" y="796" width="1" height="1" fill="#949494"/>
<rect x="639" y="794" width="1" height="2" fill="#262626"/>
<rect x="639" y="796" width="1" height="1" fill="#949494"/>
<rect x="662" y="794" width="1" height="2" fill="#262626"/>
<rect x="662" y="796" width="1" height="1" fill="#949494"/>
<rect x="708" y="794" width="1" height="2" fill="#262626"/>
<rect x="708" y="796" width="1" height="1" fill="#949494"/>
<rect x="731" y="794" width="1" height="2" fill="#262626"/>
<rect x="731" y="796" width="1" height="1" fill="#949494"/>
<rect x="755" y="794" width="1" height="2" fill="#262626"/>
<rect x="755" y="796" width="1" height="1" fill="#949494"/>
<rect x="81" y="174" width="4" height="1" fill="#000"/>
<rect x="80" y="174" width="1" height="1" fill="#7f7f7f"/>
<rect x="81" y="298" width="4" height="1" fill="#000"/>
<rect x="80" y="298" width="1" height="1" fill="#7f7f7f"/>
<rect x="81" y="421" width="4" height="1" fill="#000"/>
<rect x="80" y="421" width="1" height="1" fill="#7f7f7f"/>
<rect x="81" y="545" width="4" height="1" fill="#000"/>
<rect x="80" y="545" width="1" height="1" fill="#7f7f7f"/>
<rect x="81" y="669" width="4" height="1" fill="#000"/>
<rect x="80" y="669" width="1" height="1" fill="#7f7f7f"/>
<rect x="81" y="793" width="4" height="1" fill="#000"/>
<rect x="80" y="793" width="1" height="1" fill="#7f7f7f"/>
<rect x="83" y="762" width="2" height="1" fill="#262626"/>
<rect x="82" y="762" width="1" height="1" fill="#949494"/>
<rect x="83" y="731" width="2" height="1" fill="#262626"/>
<rect x="82" y="731" width="1" height="1" fill="#949494"/>
<rect x="83" y="700" width="2" height="1" fill="#262626"/>
<rect x="82" y="700" width="1" height="1" fill="#949494"/>
<rect x="83" y="638" width="2" height="1" fill="#262626"/>
<rect x="82" y="638" width="1" height="1" fill="#949494"/>
<rect x="83" y="607" width="2" height="1" fill="#262626"/>
<rect x="82" y="607" width="1" height="1" fill="#949494"/>
<rect x="83" y="576" width="2" height="1" fill="#262626"/>
<rect x="82" y="576" width="1" height="1" fill="#949494"/>
<rect x="83" y="514" width="2" height="1" fill="#262626"/>
<rect x="82" y="514" width="1" height="1" fill="#949494"/>
<rect x="83" y="483" width="2" height="1" fill="#262626"/>
<rect x="82" y="483" width="1" height="1" fill="#949494"/>
<rect x="83" y="452" width="2" height="1" fill="#262626"/>
<rect x="82" y="452" width="1" height="1" fill="#949494"/>
<rect x="83" y="390" width="2" height="1" fill="#262626"/>
<rect x="82" y="390" width="1" height="1" fill="#949494"/>
<rect x="83" y="359" width="2" height="1" fill="#262626"/>
<rect x="82" y="359" width="1" height="1" fill="#949494"/>
<rect x="83" y="329" width="2" height="1" fill="#262626"/>
<rect x="82" y="329" width="1" height="1" fill="#949494"/>
<rect x="83" y="267" width="2" height="1" fill="#262626"/>
<rect x="82" y="267" width="1" height="1" fill="#949494"/>
<rect x="83" y="236" width="2" height="1" fill="#262626"/>
<rect x="82" y="236" width="1" height="1" fill="#949494"/>
<rect x="83" y="205" width="2" height="1" fill="#262626"/>
<rect x="82" y="205" width="1" height="1" fill="#949494"/>
<rect x="83" y="143" width="2" height="1" fill="#262626"/>
<rect x="82" y="143" width="1" height="1" fill="#949494"/>
<rect x="83" y="112" width="2" height="1" fill="#262626"/>
<rect x="82" y="112" width="1" height="1" fill="#949494"/>
<rect x="810" y="83" width="29" height="89" fill="#00bfff"/>
<rect x="810" y="172" width="29" height="90" fill="#00ffff"/>
<rect x="810" y="262" width="29" height="90" fill="#ffd700"/>
<rect x="810" y="352" width="29" height="90" fill="#ffb6c1"/>
<rect x="810" y="442" width="29" height="90" fill="#ba55d3"/>
<rect x="810" y="532" width="29" height="90" fill="#3c3cff"/>
<rect x="810" y="622" width="29" height="90" fill="#ff0000"/>
<rect x="810" y="712" width="29" height="90" fill="#008000"/>
<rect x="808" y="82" width="1" height="721" fill="#f1f1f1"/>
<rect x="840" y="82" width="1" height="721" fill="#f1f1f1"/>
<rect x="809" y="81" width="31" height="1" fill="#f1f1f1"/>
<rect x="809" y="803" width="31" height="1" fill="#f1f1f1"/>
<rect x="809" y="82" width="1" height="721" fill="#000"/>
<rect x="839" y="82" width="1" height="721" fill="#000"/>
<rect x="809" y="82" width="31" height="1" fill="#000"/>
<rect x="809" y="802" width="31" height="1" fill="#000"/>
<rect x="840" y="127" width="4" height="1" fill="#000"/>
<rect x="844" y="127" width="1" height="1" fill="#7f7f7f"/>
<rect x="840" y="217" width="4" height="1" fill="#000"/>
<rect x="844" y="217" width="1" height="1" fill="#7f7f7f"/>
<rect x="840" y="307" width="4" height="1" fill="#000"/>
<rect x="844" y="307" width="1" height="1" fill="#7f7f7f"/>
<rect x="840" y="397" width="4" height="1" fill="#000"/>
<rect x="844" y="397" width="1" height="1" fill="#7f7f7f"/>
<rect x="840" y="487" width="4" height="1" fill="#000"/>
<rect x="844" y="487" width="1" height="1" fill="#7f7f7f"/>
<rect x="840" y="577" width="4" height="1" fill="#000"/>
<rect x="844" y="577" width="1" height="1" fill="#7f7f7f"/>
<rect x="840" y="667" width="4" height="1" fill="#000"/>
<rect x="844" y="667" width="1" height="1" fill="#7f7f7f"/>
<rect x="840" y="757" width="4" height="1" fill="#000"/>
<rect x="844" y="757" width="1" height="1" fill="#7f7f7f"/>
<rect x="840" y="82" width="2" height="1" fill="#262626"/>
<rect x="842" y="82" width="1" height="1" fill="#949494"/>
<rect x="840" y="172" width="2" height="1" fill="#262626"/>
<rect x="842" y="172" width="1" height="1" fill="#949494"/>
<rect x="840" y="262" width="2" height="1" fill="#262626"/>
<rect x="842" y="262" width="1" height="1" fill="#949494"/>
<rect x="840" y="352" width="2" height="1" fill="#262626"/>
<rect x="842" y="352" width="1" height="1" fill="#949494"/>
<rect x="840" y="442" width="2" height="1" fill="#262626"/>
<rect x="842" y="442" width="1" height="1" fill="#949494"/>
<rect x="840" y="532" width="2" height="1" fill="#262626"/>
<rect x="842" y="532" width="1" height="1" fill="#949494"/>
<rect x="840" y="622" width="2" height="1" fill="#262626"/>
<rect x="842" y="622" width="1" height="1" fill="#949494"/>
<rect x="840" y="712" width="2" height="1" fill="#262626"/>
<rect x="842" y="712" width="1" height="1" fill="#949494"/>
<rect x="840" y="802" width="2" height="1" fill="#262626"/>
<rect x="842" y="802" width="1" height="1" fill="#949494"/>
<text transform="translate(142.48,31.97) scale(0.9047,1)" font-size="30.63">NAL</text>
<text transform="translate(208.29,31.97) scale(0.9868,1)" font-size="30.63">CADI</text>
<text transform="translate(288.89,31.97) scale(1.0710,1)" font-size="30.63">-</text>
<text transform="translate(307.16,31.97) scale(1.0066,1)" font-size="30.63">Sep</text>
<text transform="translate(370.97,31.97) scale(1.0636,1)" font-size="30.63">22</text>
<text transform="translate(417.55,31.97) scale(1.0818,1)" font-size="30.63">17:00:00</text>
<text transform="translate(555.24,31.97) scale(1.0838,1)" font-size="30.63">2020</text>
<text transform="translate(638.56,31.97) scale(0.9153,1)" font-size="30.63">UTC</text>
<text transform="translate(330.02,840.90) scale(0.9959,1)" font-size="26.16">Frequency</text>
<text transform="translate(461.67,840.90) scale(0.9747,1)" font-size="26.16">(MHz)</text>
<text transform="translate(28.00,559.98) rotate(-90) scale(1.0664,1)" font-size="25.87">Virtual</text>
<text transform="translate(28.00,473.65) rotate(-90) scale(1.0750,1)" font-size="25.87">height</text>
<text transform="translate(28.00,389.65) rotate(-90) scale(1.0609,1)" font-size="25.87">(km)</text>
<text transform="translate(935.90,549.80) rotate(-90) scale(1.0470,1)" font-size="26.02">Azimuth</text>
<text transform="translate(935.90,443.90) rotate(-90) scale(1.0570,1)" font-size="26.02">Direction</text>
<text transform="translate(67.08,797.90) scale(1.0714,1)" font-size="14.39">0</text>
<text transform="translate(48.01,674.90) scale(1.1040,1)" font-size="14.39">200</text>
<text transform="translate(49.40,550.80) scale(1.0552,1)" font-size="14.24">400</text>
<text transform="translate(48.01,427.00) scale(1.0930,1)" font-size="14.53">600</text>
<text transform="translate(48.17,303.90) scale(1.1083,1)" font-size="14.24">800</text>
<text transform="translate(39.81,179.90) scale(1.0772,1)" font-size="14.39">1000</text>
<text transform="translate(127.05,814.00) scale(1.0320,1)" font-size="14.53">2</text>
<text transform="translate(220.73,814.00) scale(0.9443,1)" font-size="14.53">4</text>
<text transform="translate(311.24,814.00) scale(1.0470,1)" font-size="14.53">6</text>
<text transform="translate(404.40,814.00) scale(1.0247,1)" font-size="14.53">8</text>
<text transform="translate(492.87,814.00) scale(0.9729,1)" font-size="14.53">10</text>
<text transform="translate(585.94,814.00) scale(0.9127,1)" font-size="14.53">12</text>
<text transform="translate(677.88,814.00) scale(0.9632,1)" font-size="14.53">14</text>
<text transform="translate(769.87,814.00) scale(0.9729,1)" font-size="14.53">16</text>
<text transform="translate(848.67,132.80) scale(0.9669,1)" font-size="17.15">NNE</text>
<text transform="translate(848.67,222.80) scale(0.9718,1)" font-size="17.15">E</text>
<text transform="translate(848.24,312.80) scale(0.8853,1)" font-size="17.15">SSE</text>
<text transform="translate(848.21,402.80) scale(0.9192,1)" font-size="17.15">SSW</text>
<text transform="translate(849.84,492.80) scale(0.9404,1)" font-size="17.15">W</text>
<text transform="translate(848.64,582.80) scale(0.9887,1)" font-size="17.15">NNW</text>
<text transform="translate(849.06,672.80) scale(1.0960,1)" font-size="17.15">Vertical</text>
<text transform="translate(849.47,762.80) scale(1.0369,1)" font-size="17.15">X-mode</text>
</g>
</svg>
</body></html>
